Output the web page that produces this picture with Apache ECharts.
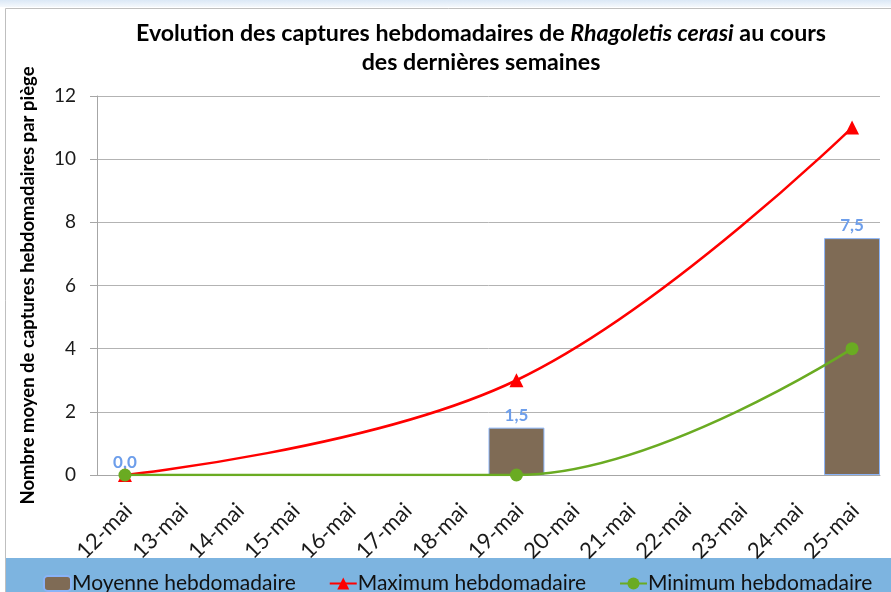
<!DOCTYPE html>
<html><head><meta charset="utf-8">
<script src="https://cdn.jsdelivr.net/npm/echarts@6/dist/echarts.min.js"></script>
<style>html,body{margin:0;padding:0;background:#fff}#c{width:891px;height:592px}</style>
</head><body><div id="c"></div>
<script>
const categories = ['12-mai','13-mai','14-mai','15-mai','16-mai','17-mai','18-mai','19-mai','20-mai','21-mai','22-mai','23-mai','24-mai','25-mai'];
const moyenne = [0, null, null, null, null, null, null, 1.5, null, null, null, null, null, 7.5];
const maximum = [0, null, null, null, null, null, null, 3, null, null, null, null, null, 11];
const minimum = [0, null, null, null, null, null, null, 0, null, null, null, null, null, 4];
const yTicks = [0, 2, 4, 6, 8, 10, 12];

const FONT = 'Lato';
const chart = echarts.init(document.getElementById('c'), null, {renderer: 'canvas'});
chart.setOption({
  animation: false,
  backgroundColor: '#fff',
  textStyle: {fontFamily: FONT},
  graphic: [
    {type: 'rect', z: -10, shape: {x: 0, y: 0, width: 891, height: 7}, style: {fill: new echarts.graphic.LinearGradient(0,0,0,1,[{offset:0,color:'#dbe8f6'},{offset:1,color:'#f4f8fc'}])}},
    {type: 'rect', z: -10, shape: {x: 5.5, y: 8.5, width: 900, height: 600}, style: {fill: 'none', stroke: '#bfbfbf', lineWidth: 1}},
    {type: 'rect', z: -5, shape: {x: 6, y: 558, width: 885, height: 34}, style: {fill: '#7db4e0'}}
  ],
  title: {
    left: 476,
    textAlign: 'center',
    top: 14,
    text: '{b|Evolution des captures hebdomadaires de }{i|Rhagoletis cerasi}{b| au cours}\n{b|des dernières semaines}',
    textStyle: {
      rich: {
        b: {fontFamily: FONT, fontSize: 23.2, fontWeight: 'bold', color: '#000', lineHeight: 29},
        i: {fontFamily: FONT, fontSize: 23.2, fontWeight: 'bold', fontStyle: 'italic', color: '#000', lineHeight: 29}
      }
    }
  },
  grid: {left: 97, top: 96, width: 783, height: 379, outerBoundsMode: 'none'},
  legend: {
    left: 38, top: 568,
    itemGap: 33, itemWidth: 27, itemHeight: 15,
    textStyle: {fontFamily: FONT, fontSize: 21, color: '#111', padding: [0,0,0,-4]},
    data: ['Moyenne hebdomadaire', 'Maximum hebdomadaire', 'Minimum hebdomadaire']
  },
  xAxis: {
    type: 'category',
    data: categories,
    boundaryGap: true,
    axisLine: {lineStyle: {color: '#a6a6a6'}},
    axisTick: {show: false},
    axisLabel: {
      rotate: 45, margin: 20, interval: 0, verticalAlign: 'top',
      fontFamily: FONT, fontSize: 22, color: '#1a1a1a',
      formatter: '{d|{value}}',
      rich: {d: {fontFamily: FONT, fontSize: 22, color: '#1a1a1a', padding: [0, 6, 0, 0]}}
    }
  },
  yAxis: {
    type: 'value',
    min: yTicks[0], max: yTicks[yTicks.length - 1], interval: 2,
    name: 'Nombre moyen de captures hebdomadaires par piège',
    nameLocation: 'middle',
    nameGap: 59,
    nameTextStyle: {fontFamily: FONT, fontSize: 18.5, fontWeight: 'bold', color: '#000'},
    axisLine: {show: true, lineStyle: {color: '#a6a6a6'}},
    axisTick: {show: true, length: 7, lineStyle: {color: '#a6a6a6'}},
    splitLine: {lineStyle: {color: '#b3b3b3'}},
    axisLabel: {fontFamily: FONT, fontSize: 19, color: '#1a1a1a', margin: 21}
  },
  series: [
    {
      name: 'Moyenne hebdomadaire', type: 'bar',
      data: moyenne.map(v => v === 0 ? {value: v, itemStyle: {borderWidth: 0}} : v),
      barWidth: '100%',
      itemStyle: {color: '#7f6b55', borderColor: '#8ab4f8', borderWidth: 1},
      label: {show: true, position: 'top', distance: 4, fontFamily: FONT, fontSize: 17, fontWeight: 'bold', color: '#6d9eeb',
        formatter: p => p.value == null ? '' : Number(p.value).toFixed(1).replace('.', ',')}
    },
    {
      name: 'Maximum hebdomadaire', type: 'line', data: maximum,
      connectNulls: true, smooth: 0.4,
      symbol: 'triangle', symbolSize: 14,
      lineStyle: {color: '#ff0000', width: 2.5},
      itemStyle: {color: '#ff0000'}
    },
    {
      name: 'Minimum hebdomadaire', type: 'line', data: minimum,
      connectNulls: true, smooth: 0.4,
      symbol: 'circle', symbolSize: 13,
      lineStyle: {color: '#6aab22', width: 2.5},
      itemStyle: {color: '#6aab22'}
    }
  ]
});
</script></body></html>
